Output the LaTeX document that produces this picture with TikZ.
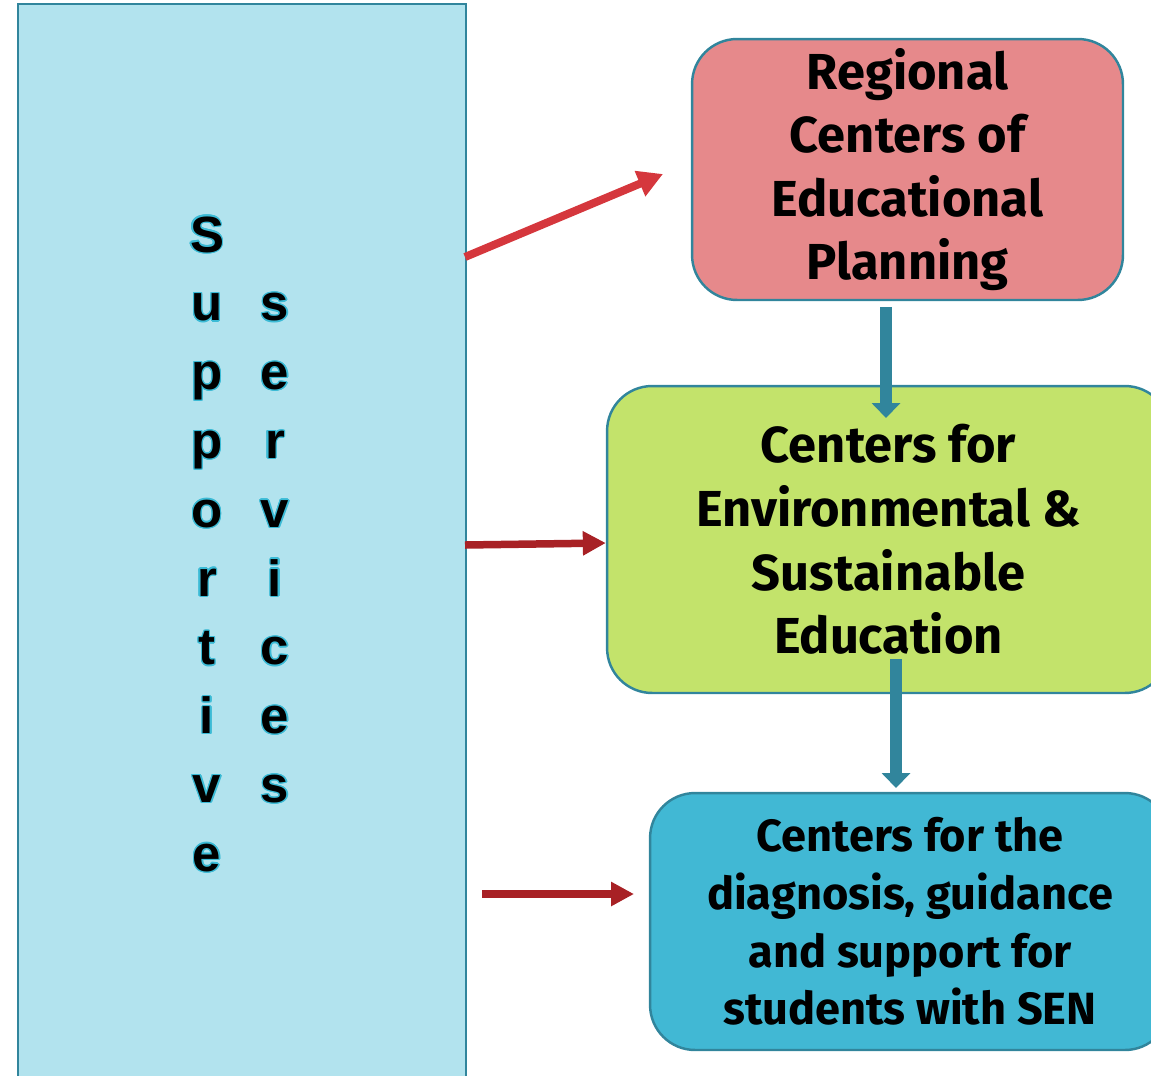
\documentclass[tikz,border=0pt]{standalone}
\usepackage{fontspec}
\setmainfont{Fira Sans}
\newfontfamily\letterfont{Liberation Sans}
\usepackage{contour}
\contourlength{0.7pt}
\usetikzlibrary{arrows.meta}

\definecolor{sideblue}{HTML}{B2E3EE}
\definecolor{edgeteal}{HTML}{31859C}
\definecolor{planred}{HTML}{E6898B}
\definecolor{envgreen}{HTML}{C3E36B}
\definecolor{senblue}{HTML}{41B8D4}
\definecolor{arrowred}{HTML}{D5373D}
\definecolor{darkred}{HTML}{A82125}
\definecolor{glowcyan}{HTML}{3BBBD6}

\begin{document}
\begin{tikzpicture}[x=0.02cm,y=-0.02cm,
    centre/.style={draw=edgeteal, line width=1.4pt, rounded corners=0.9cm, align=center, inner sep=0pt},
    bigtext/.style={font=\fontsize{28.8}{36.2}\selectfont\bfseries},
    smalltext/.style={font=\fontsize{25.7}{32.8}\selectfont\bfseries},
    letter/.style={anchor=base, font=\letterfont\fontsize{29}{29}\selectfont\bfseries},
    redarrow/.style={draw=arrowred, line width=0.16cm, -{Triangle[length=0.5cm,width=0.52cm]}},
    darkarrow/.style={draw=darkred, line width=0.15cm, -{Triangle[length=0.46cm,width=0.46cm]}},
    tealarrow/.style={draw=edgeteal, line width=0.25cm, -{Triangle[length=0.3cm,width=0.56cm]}}]
  \clip (0,0) rectangle (1151,1075);

  % side panel
  \node[draw=edgeteal, fill=sideblue, line width=1.4pt, inner sep=0pt,
        minimum width=8.96cm, minimum height=22cm, anchor=north west] (support) at (17,3) {};
  \foreach \ch [count=\i] in {S,u,p,p,o,r,t,i,v,e}
    \node[letter] (sup\i) at (207,{252+68.8*(\i-1)}) {\contour{glowcyan}{\ch}};
  \foreach \ch [count=\i from 2] in {s,e,r,v,i,c,e,s}
    \node[letter] (ser\i) at (275,{252+68.8*(\i-1)}) {\contour{glowcyan}{\ch}};

  % centres
  \node[centre, bigtext, fill=planred, minimum width=8.62cm, minimum height=5.22cm] (regional) at (907.5,169.5)
    {Regional\\Centers of\\Educational\\Planning};
  \node[centre, bigtext, fill=envgreen, minimum width=11.26cm, minimum height=6.14cm] (environ) at (888.5,539.5)
    {Centers for\\Environmental \&\\Sustainable\\Education};
  \node[centre, smalltext, fill=senblue, minimum width=10.4cm, minimum height=5.14cm] (diagnosis) at (910,921.5)
    {Centers for the\\diagnosis, guidance\\and support for\\students with SEN};

  % connectors
  \coordinate (toregional) at (663,174);
  \coordinate (fromsupport) at (465,257);
  \coordinate (midsupport) at (465,545);
  \coordinate (lowstart) at (482,894);
  \coordinate (lowend) at (634,894);
  \coordinate (regbelow) at (886,307);
  \coordinate (envtop) at (886,418);
  \coordinate (envbelow) at (896,659);
  \coordinate (diagtop) at (896,788);

  \draw[redarrow] (fromsupport) -- (toregional);
  \draw[darkarrow] (midsupport) -- (environ.west |- 0,543);
  \draw[darkarrow] (lowstart) -- (lowend);
  \draw[tealarrow] (regbelow) -- (envtop);
  \draw[tealarrow] (envbelow) -- (diagtop);
\end{tikzpicture}
\end{document}
